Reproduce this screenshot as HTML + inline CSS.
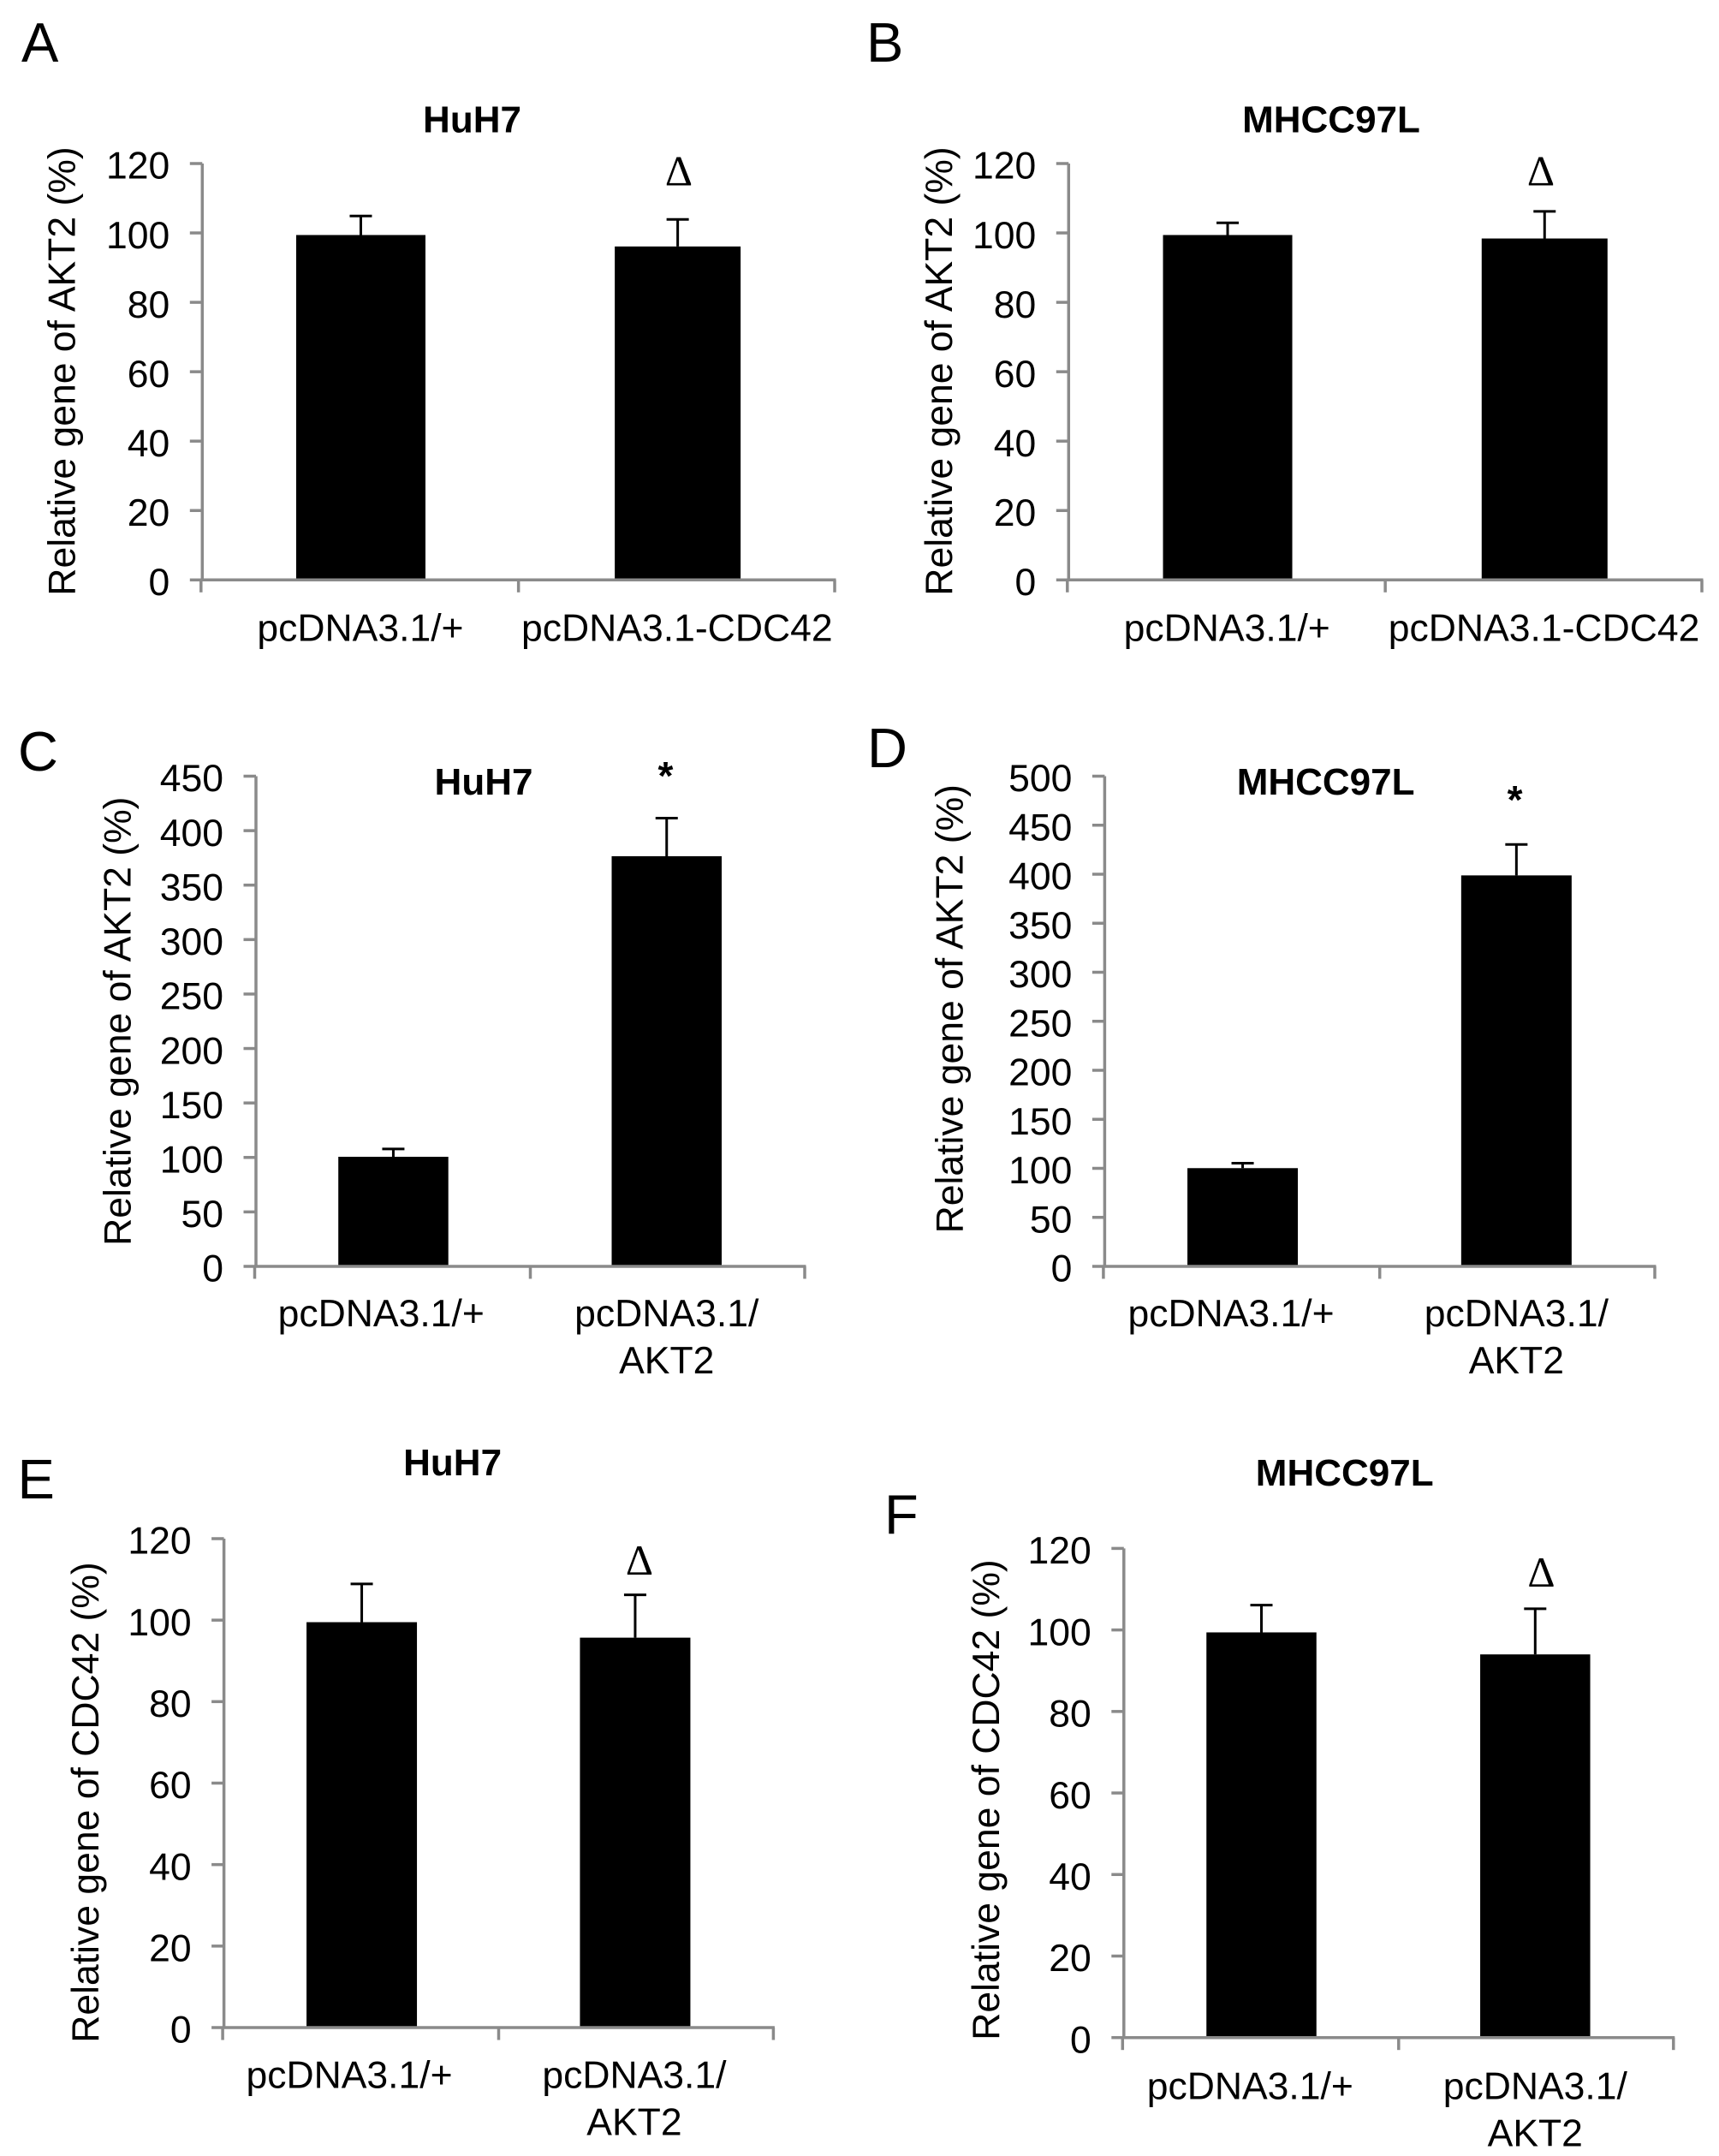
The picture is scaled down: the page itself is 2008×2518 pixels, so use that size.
<!DOCTYPE html>
<html lang="en">
<head>
<meta charset="utf-8">
<title>AKT2 and CDC42 relative gene expression</title>
<style>
html,body{margin:0;padding:0;background:#fff;width:2008px;height:2518px;overflow:hidden}
svg{display:block}
text{font-family:"Liberation Sans",sans-serif;fill:#000}
</style>
</head>
<body>
<svg id="figure" xmlns="http://www.w3.org/2000/svg" width="2008" height="2518" viewBox="0 0 2008 2518">
<rect x="0" y="0" width="2008" height="2518" fill="#fff"/>
</svg>
<script>
const yTitleAkt2 = "Relative gene of AKT2 (%)";
const yTitleCdc42 = "Relative gene of CDC42 (%)";

const aCategories = [["pcDNA3.1/+"], ["pcDNA3.1-CDC42"]];
const aValues = [99.4, 96.1];
const aErrors = [5.5, 7.8];
const aTicks = [0, 20, 40, 60, 80, 100, 120];
const aMarks = ["", "Δ"];

const bCategories = [["pcDNA3.1/+"], ["pcDNA3.1-CDC42"]];
const bValues = [99.4, 98.4];
const bErrors = [3.5, 7.8];
const bTicks = [0, 20, 40, 60, 80, 100, 120];
const bMarks = ["", "Δ"];

const cCategories = [["pcDNA3.1/+"], ["pcDNA3.1/", "AKT2"]];
const cValues = [100.6, 376.5];
const cErrors = [7.2, 35];
const cTicks = [0, 50, 100, 150, 200, 250, 300, 350, 400, 450];
const cMarks = ["", "*"];

const dCategories = [["pcDNA3.1/+"], ["pcDNA3.1/", "AKT2"]];
const dValues = [100.2, 398.8];
const dErrors = [5, 31.6];
const dTicks = [0, 50, 100, 150, 200, 250, 300, 350, 400, 450, 500];
const dMarks = ["", "*"];

const eCategories = [["pcDNA3.1/+"], ["pcDNA3.1/", "AKT2"]];
const eValues = [99.5, 95.7];
const eErrors = [9.4, 10.5];
const eTicks = [0, 20, 40, 60, 80, 100, 120];
const eMarks = ["", "Δ"];

const fCategories = [["pcDNA3.1/+"], ["pcDNA3.1/", "AKT2"]];
const fValues = [99.4, 94];
const fErrors = [6.7, 11.2];
const fTicks = [0, 20, 40, 60, 80, 100, 120];
const fMarks = ["", "Δ"];

const panels = [
  {id:"a", letter:"A", letterX:25, letterY:72, title:"HuH7", titleX:551.5, titleY:154.5, yTitle:yTitleAkt2, yTitleX:87.5, yTitleY:433.5,
   x0:236.3, x1:975, yTop:191, yBottom:677.3, barW:[151,147], barDx:[0.5,1.3], labelDx:[0,0.5], labelY:748.3, markX:793, markY:216.5,
   categories:aCategories, values:aValues, errors:aErrors, ticks:aTicks, marks:aMarks},
  {id:"b", letter:"B", letterX:1012, letterY:72, title:"MHCC97L", titleX:1555, titleY:154.5, yTitle:yTitleAkt2, yTitleX:1112, yTitleY:433.5,
   x0:1248.3, x1:1988, yTop:191, yBottom:677.3, barW:[151,147], barDx:[0.8,1.2], labelDx:[0,0.5], labelY:748.3, markX:1800, markY:216.5,
   categories:bCategories, values:bValues, errors:bErrors, ticks:bTicks, marks:bMarks},
  {id:"c", letter:"C", letterX:21, letterY:900, title:"HuH7", titleX:565, titleY:927.8, yTitle:yTitleAkt2, yTitleX:152.3, yTitleY:1192.7,
   x0:299, x1:940, yTop:906.5, yBottom:1479, barW:[128.5,128.5], barDx:[0.2,-1], labelDx:[-14,-1], labelY:1549, markX:777.5, markY:922,
   categories:cCategories, values:cValues, errors:cErrors, ticks:cTicks, marks:cMarks},
  {id:"d", letter:"D", letterX:1013, letterY:896, title:"MHCC97L", titleX:1548.6, titleY:927.8, yTitle:yTitleAkt2, yTitleX:1124.7, yTitleY:1178.2,
   x0:1290.4, x1:1933, yTop:906.5, yBottom:1479, barW:[129,129], barDx:[0.5,-1], labelDx:[-13,-1], labelY:1549, markX:1769.6, markY:950,
   categories:dCategories, values:dValues, errors:dErrors, ticks:dTicks, marks:dMarks},
  {id:"e", letter:"E", letterX:20.5, letterY:1750, title:"HuH7", titleX:528.6, titleY:1723, yTitle:yTitleCdc42, yTitleX:115.1, yTitleY:2105,
   x0:261.6, x1:903.4, yTop:1797, yBottom:2368, barW:[129,129], barDx:[0.5,-1], labelDx:[-14,-2], labelY:2438.3, markX:747, markY:1839,
   categories:eCategories, values:eValues, errors:eErrors, ticks:eTicks, marks:eMarks},
  {id:"f", letter:"F", letterX:1033, letterY:1791, title:"MHCC97L", titleX:1570.7, titleY:1735, yTitle:yTitleCdc42, yTitleX:1167.2, yTitleY:2102,
   x0:1312.8, x1:1954.8, yTop:1808.4, yBottom:2379.7, barW:[128.5,128.5], barDx:[0.2,-1], labelDx:[-13,-1], labelY:2451.7, markX:1800.5, markY:1853,
   categories:fCategories, values:fValues, errors:fErrors, ticks:fTicks, marks:fMarks}
];

const NS = "http://www.w3.org/2000/svg";
const AXIS = "#8a8a8a";
const AXIS_W = 3.5;
const TICK = 14.5;
const FS = 44.5;
const LINE_H = 55;
const svg = document.getElementById("figure");

function make(tag, attrs, parent, txt) {
  const node = document.createElementNS(NS, tag);
  for (const k in attrs) node.setAttribute(k, attrs[k]);
  if (txt !== undefined) node.textContent = txt;
  parent.appendChild(node);
  return node;
}

panels.forEach(function (p) {
  const maxTick = p.ticks[p.ticks.length - 1];
  const yScale = function (v) { return p.yBottom - (v - p.ticks[0]) / (maxTick - p.ticks[0]) * (p.yBottom - p.yTop); };
  const n = p.categories.length;
  const band = (p.x1 - p.x0) / n;
  const xCenter = function (i) { return p.x0 + band * (i + 0.5); };
  const xEdge = function (i) { return p.x0 + band * i; };
  let el;

  const g = make("g", {}, svg);
  
  

  el = make("text", {x:p.letterX, y:p.letterY, "font-size":65}, g, p.letter);
  
  

  el = make("text", {x:p.titleX, y:p.titleY, "font-size":44, "font-weight":"bold", "text-anchor":"middle"}, g, p.title);
  
  

  el = make("text", {x:0, y:0, "font-size":FS, "text-anchor":"middle", transform:"translate(" + p.yTitleX + " " + p.yTitleY + ") rotate(-90)"}, g, p.yTitle);
  
  

  p.values.forEach(function (v, i) {
    const cx = xCenter(i) + p.barDx[i];
    const top = yScale(v + p.errors[i]);
    el = make("line", {x1:cx, x2:cx, y1:top, y2:yScale(v), stroke:"#000", "stroke-width":3}, g);
    
    
    el = make("line", {x1:cx - 13, x2:cx + 13, y1:top, y2:top, stroke:"#000", "stroke-width":3}, g);
    
    
    el = make("rect", {x:cx - p.barW[i] / 2, y:yScale(v), width:p.barW[i], height:p.yBottom - yScale(v), fill:"#000"}, g);
    
    
    if (p.marks[i]) {
      const isDelta = p.marks[i] === "Δ";
      el = make("text", {x:p.markX, y:p.markY, "font-size":isDelta ? 50 : 46, "text-anchor":"middle", "font-weight":isDelta ? "normal" : "bold", style:isDelta ? 'font-family:"Liberation Serif",serif' : ""}, g, p.marks[i]);
      
      
    }
  });

  el = make("line", {x1:p.x0, x2:p.x0, y1:p.yTop, y2:p.yBottom + 1.5, stroke:AXIS, "stroke-width":AXIS_W}, g);
  
  

  el = make("line", {x1:p.x0 - 1.5, x2:p.x1 + 1.5, y1:p.yBottom, y2:p.yBottom, stroke:AXIS, "stroke-width":AXIS_W}, g);
  
  

  p.ticks.forEach(function (t) {
    const y = yScale(t);
    el = make("line", {x1:p.x0 - TICK, x2:p.x0, y1:y, y2:y, stroke:AXIS, "stroke-width":AXIS_W}, g);
    
    
    el = make("text", {x:p.x0 - 38, y:y + 17.7, "font-size":FS, "text-anchor":"end"}, g, String(t));
    
    
  });

  for (let i = 0; i <= n; i++) {
    const tx = i === 0 ? xEdge(i) - 1.5 : xEdge(i);
    el = make("line", {x1:tx, x2:tx, y1:p.yBottom, y2:p.yBottom + TICK, stroke:AXIS, "stroke-width":AXIS_W}, g);
    
    
  }

  p.categories.forEach(function (lines, i) {
    lines.forEach(function (line, j) {
      el = make("text", {x:xCenter(i) + p.labelDx[i], y:p.labelY + j * LINE_H, "font-size":FS, "text-anchor":"middle"}, g, line);
      
      
    });
  });
});
</script>
</body>
</html>
